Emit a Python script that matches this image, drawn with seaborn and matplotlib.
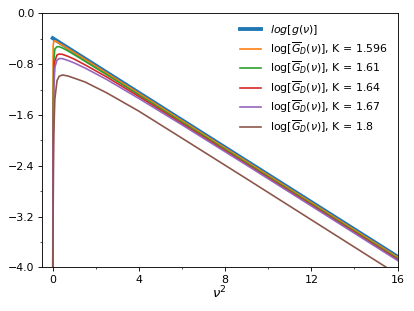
import matplotlib
matplotlib.use("Agg")
import matplotlib.pyplot as plt
from matplotlib.ticker import MultipleLocator
import seaborn as sns

nu2_g = [0.0, 16.0]
log_g = [-0.39, -3.83]

nu2 = [0.0, 0.02, 0.05, 0.1, 0.2, 0.3, 0.45, 0.7, 1.0, 1.5, 2.5, 4.0, 6.0, 9.0, 12.0, 16.0]

# log[G_D(nu)] for each K
K_values = ["1.596", "1.61", "1.64", "1.67", "1.8"]
log_GD_1596 = [-4.5, -0.51, -0.44, -0.43, -0.448, -0.47, -0.50, -0.553, -0.617, -0.724, -0.939, -1.26, -1.69, -2.335, -2.98, -3.84]
log_GD_161 = [-4.5, -1.6, -0.75, -0.56, -0.525, -0.524, -0.545, -0.59, -0.65, -0.755, -0.965, -1.285, -1.713, -2.357, -3.0, -3.86]
log_GD_164 = [-4.5, -2.2, -1.05, -0.75, -0.655, -0.64, -0.645, -0.675, -0.72, -0.81, -1.0, -1.31, -1.735, -2.375, -3.017, -3.875]
log_GD_167 = [-4.5, -2.5, -1.2, -0.85, -0.735, -0.712, -0.712, -0.74, -0.78, -0.86, -1.04, -1.34, -1.755, -2.39, -3.032, -3.89]
log_GD_18 = [-4.5, -3.2, -1.9, -1.35, -1.06, -0.99, -0.97, -0.985, -1.02, -1.08, -1.25, -1.54, -1.965, -2.605, -3.25, -4.11]

series = [log_GD_1596, log_GD_161, log_GD_164, log_GD_167, log_GD_18]
colors = ["tab:orange", "tab:green", "tab:red", "tab:purple", "tab:brown"]

fig, ax = plt.subplots(figsize=(415 / 79, 311 / 79), dpi=79)

sns.lineplot(x=nu2_g, y=log_g, color="tab:blue", linewidth=3.5,
             label=r"$log[g(\nu)]$", ax=ax)
for K, vals, c in zip(K_values, series, colors):
    sns.lineplot(x=nu2, y=vals, color=c, linewidth=1.5,
                 label=r"log[$\overline{G}_D(\nu)$], K = " + K, ax=ax)

ax.set_xlim(-0.5, 16)
ax.set_ylim(-4.0, 0.0)
ax.xaxis.set_major_locator(MultipleLocator(4))
ax.xaxis.set_minor_locator(MultipleLocator(2))
ax.yaxis.set_major_locator(MultipleLocator(0.8))
ax.yaxis.set_minor_locator(MultipleLocator(0.4))
ax.set_xlabel(r"$\nu^2$", fontsize=12, labelpad=0)
ax.set_ylabel("")
ax.legend(loc="upper right", frameon=False, labelspacing=0.25)

plt.subplots_adjust(left=0.101, right=0.958, bottom=0.14, top=0.957)
plt.savefig("out.png", dpi=79)
